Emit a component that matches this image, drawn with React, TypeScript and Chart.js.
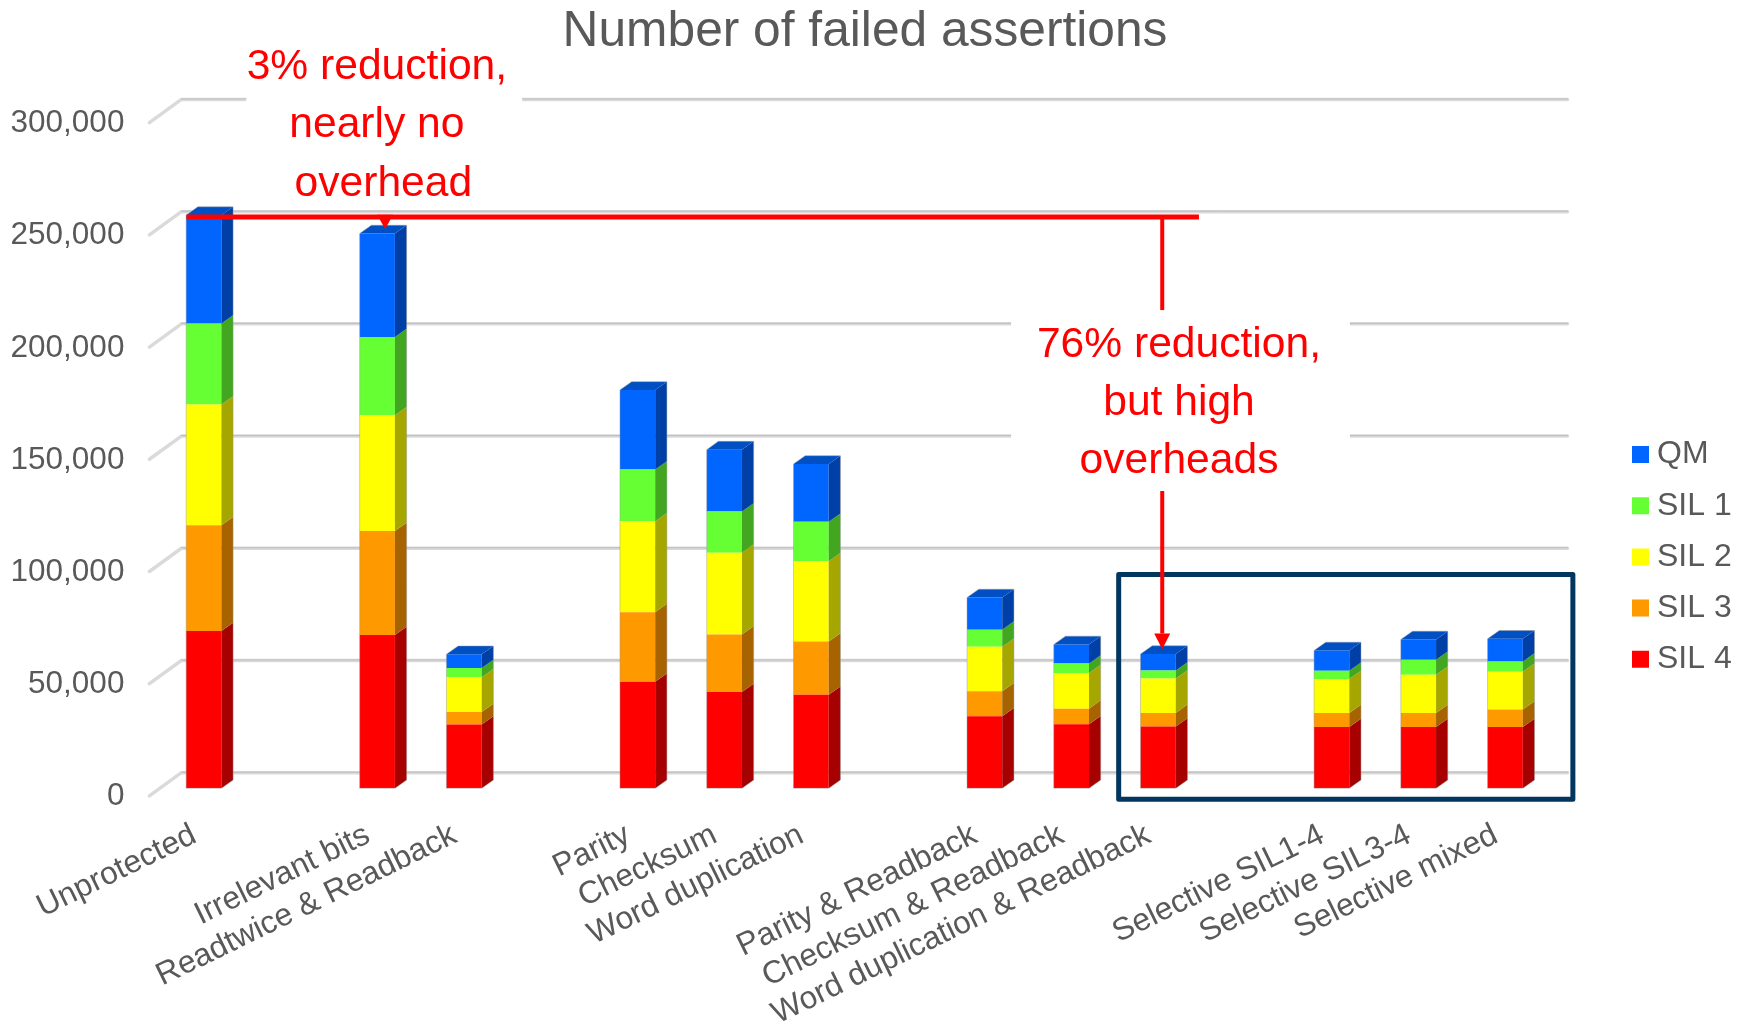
import React, { useEffect, useRef } from "react";
import { Chart, registerables } from "chart.js";

Chart.register(...registerables);

// Blank entries separate the groups of protection techniques on the axis.
const categories = [
  "Unprotected", "",
  "Irrelevant bits", "Readtwice & Readback", "",
  "Parity", "Checksum", "Word duplication", "",
  "Parity & Readback", "Checksum & Readback", "Word duplication & Readback", "",
  "Selective SIL1-4", "Selective SIL3-4", "Selective mixed",
];

const sil4 = [70100, null, 68300, 28400, null, 47500, 42900, 41700, null, 32100, 28500, 27500, null, 27300, 27300, 27300];
const sil3 = [47100, null, 46300, 5600, null, 31000, 25600, 23700, null, 11100, 7000, 6100, null, 6200, 6200, 7800];
const sil2 = [53800, null, 51600, 15500, null, 40500, 36500, 35800, null, 19900, 15900, 15300, null, 15200, 17100, 16800];
const sil1 = [36100, null, 34900, 4100, null, 23000, 18300, 17600, null, 7600, 4200, 3600, null, 3700, 6700, 4600];
const qm = [48300, null, 46100, 6100, null, 35500, 27600, 25700, null, 14300, 8500, 7300, null, 9000, 9000, 10100];

const seriesNames = ["SIL 4", "SIL 3", "SIL 2", "SIL 1", "QM"];
const seriesValues = [sil4, sil3, sil2, sil1, qm];
const frontColors = ["#ff0000", "#ff9900", "#ffff00", "#66ff33", "#0066ff"];
const sideColors = ["#a60000", "#a66300", "#a6a600", "#42a620", "#0040a6"];
const capColor = "#0050c4";

const titleText = "Number of failed assertions";
const leftNote = ["3% reduction,", "nearly no", "overhead"];
const rightNote = ["76% reduction,", "but high", "overheads"];

const TEXT_GREY = "#595959";
const RED = "#ff0000";
const NAVY = "#01375f";
const FONT = '"Liberation Sans", Arial, sans-serif';

// Oblique offset of the extruded bars and of the floor/back wall.
const DEPTH_X = 11.7;
const DEPTH_Y = 8.3;
const WALL_BACK_X = 21;
const WALL_BACK_Y = 15.6;
const WALL_FRONT_X = -11;
const WALL_FRONT_Y = 7.6;

const wallPlugin = {
  id: "wall",
  beforeDatasetsDraw(chart: any) {
    const { ctx, scales, chartArea } = chart;
    const y = scales.y;
    const x = scales.x;
    const wallRight = chartArea.right + WALL_BACK_X - 2;
    ctx.save();
    for (const tick of y.ticks) {
      const py = y.getPixelForValue(tick.value);
      ctx.lineCap = "round";
      ctx.lineJoin = "round";
      ctx.strokeStyle = "#dadada";
      ctx.lineWidth = 3.5;
      ctx.beginPath();
      ctx.moveTo(chartArea.left + WALL_FRONT_X, py + WALL_FRONT_Y);
      ctx.lineTo(chartArea.left + WALL_BACK_X, py - WALL_BACK_Y);
      ctx.lineTo(wallRight, py - WALL_BACK_Y);
      ctx.stroke();
      ctx.strokeStyle = "#bdbdbd";
      ctx.lineWidth = 1;
      ctx.beginPath();
      ctx.moveTo(chartArea.left + WALL_BACK_X, py - WALL_BACK_Y - 0.5);
      ctx.lineTo(wallRight, py - WALL_BACK_Y - 0.5);
      ctx.stroke();
    }
    // The two callouts sit on white panels that interrupt the wall lines.
    ctx.fillStyle = "#ffffff";
    const panels = [
      [0.49, 3.67, 322500, 285000],
      [9.305, 13.21, 213100, 141800],
    ];
    for (const [i0, i1, v0, v1] of panels) {
      const px = x.getPixelForValue(i0);
      const py = y.getPixelForValue(v0);
      ctx.fillRect(px, py, x.getPixelForValue(i1) - px, y.getPixelForValue(v1) - py);
    }
    ctx.restore();
  },
};

const extrusionPlugin = {
  id: "extrusion",
  afterDatasetsDraw(chart: any) {
    const { ctx } = chart;
    ctx.save();
    const metas = seriesValues.map((_, d) => chart.getDatasetMeta(d));
    metas.forEach((meta: any, d: number) => {
      meta.data.forEach((bar: any, i: number) => {
        if (seriesValues[d][i] == null) return;
        const right = bar.x + bar.width / 2;
        ctx.fillStyle = sideColors[d];
        ctx.beginPath();
        ctx.moveTo(right, bar.y);
        ctx.lineTo(right + DEPTH_X, bar.y - DEPTH_Y);
        ctx.lineTo(right + DEPTH_X, bar.base - DEPTH_Y);
        ctx.lineTo(right, bar.base);
        ctx.closePath();
        ctx.fill();
      });
    });
    categories.forEach((_, i) => {
      if (sil4[i] == null) return;
      const low = metas[0].data[i];
      const top = metas[metas.length - 1].data[i];
      const left = top.x - top.width / 2;
      const right = top.x + top.width / 2;
      ctx.fillStyle = capColor;
      ctx.beginPath();
      ctx.moveTo(left, top.y);
      ctx.lineTo(left + DEPTH_X, top.y - DEPTH_Y);
      ctx.lineTo(right + DEPTH_X, top.y - DEPTH_Y);
      ctx.lineTo(right, top.y);
      ctx.closePath();
      ctx.fill();
      ctx.strokeStyle = "rgba(150,150,150,0.45)";
      ctx.lineWidth = 1;
      ctx.beginPath();
      ctx.moveTo(left, low.base);
      ctx.lineTo(right, low.base);
      ctx.lineTo(right + DEPTH_X, low.base - DEPTH_Y);
      ctx.lineTo(right + DEPTH_X, top.y - DEPTH_Y);
      ctx.lineTo(left + DEPTH_X, top.y - DEPTH_Y);
      ctx.lineTo(left, top.y);
      ctx.closePath();
      ctx.stroke();
    });
    ctx.restore();
  },
};

const calloutPlugin = {
  id: "callouts",
  afterDatasetsDraw(chart: any) {
    const { ctx, scales } = chart;
    const px = (i: number) => scales.x.getPixelForValue(i);
    const py = (v: number) => scales.y.getPixelForValue(v);
    const head = (i: number, from: number, tipValue: number, half: number) => {
      ctx.beginPath();
      ctx.moveTo(px(i) - half, py(from));
      ctx.lineTo(px(i) + half, py(from));
      ctx.lineTo(px(i), py(tipValue));
      ctx.closePath();
      ctx.fill();
    };
    const segment = (x0: number, y0: number, x1: number, y1: number, w: number) => {
      ctx.lineWidth = w;
      ctx.beginPath();
      ctx.moveTo(x0, y0);
      ctx.lineTo(x1, y1);
      ctx.stroke();
    };
    ctx.save();

    // Outline around the group of bars the right-hand note talks about.
    ctx.strokeStyle = NAVY;
    ctx.lineWidth = 5;
    ctx.lineJoin = "round";
    ctx.strokeRect(px(10.545), py(95300), px(15.78) - px(10.545), py(-4900) - py(95300));

    const refValue = 254600;
    ctx.strokeStyle = RED;
    ctx.fillStyle = RED;
    segment(px(-0.2), py(refValue), px(11.47), py(refValue), 5);
    head(2.09, refValue + 1000, 249200, 8);
    segment(px(11.047), py(refValue), px(11.047), py(213100), 4);
    segment(px(11.047), py(132500), px(11.047), py(69000), 4);
    head(11.047, 69000, 62000, 8);

    ctx.textAlign = "center";
    ctx.textBaseline = "middle";
    ctx.font = `42.6px ${FONT}`;
    const drawNote = (lines: string[], indices: number[], values: number[]) =>
      lines.forEach((line, k) => ctx.fillText(line, px(indices[k]), py(values[k])));
    drawNote(leftNote, [1.995, 1.995, 2.07], [321200, 295400, 269100]);
    drawNote(rightNote, [11.24, 11.24, 11.24], [197600, 171700, 145900]);
    ctx.restore();
  },
};

// Moves the legend block clear of the plot, next to the right edge of the canvas,
// and lets the value labels use the full width left of the axis.
const axisAndLegendPlacement = {
  id: "axisAndLegendPlacement",
  afterLayout(chart: any) {
    const legend = chart.legend;
    const w = legend.width;
    legend.left = 1620.8;
    legend.right = 1620.8 + w;
    legend.top = 419.3;
    legend.bottom = 1024;
    chart.scales.y.left = 0;
  },
};

export default function App() {
  const canvasRef = useRef<HTMLCanvasElement | null>(null);

  useEffect(() => {
    const chart = new Chart(canvasRef.current as HTMLCanvasElement, {
      type: "bar",
      data: {
        labels: categories,
        datasets: seriesNames.map((name, d) => ({
          label: name,
          data: seriesValues[d],
          backgroundColor: frontColors[d],
          borderWidth: 0,
          barPercentage: 0.406,
          categoryPercentage: 1,
        })),
      },
      options: {
        animation: false,
        responsive: false,
        devicePixelRatio: 1,
        layout: { padding: { left: 60.5, right: 76.5, top: 0, bottom: 0 } },
        plugins: {
          title: {
            display: true,
            text: titleText,
            color: TEXT_GREY,
            font: { family: FONT, size: 49.7, weight: "normal", lineHeight: 1.2 },
            padding: { top: 2, bottom: 53.4 },
          },
          legend: {
            position: "right",
            align: "start",
            reverse: true,
            labels: {
              color: TEXT_GREY,
              font: { family: FONT, size: 32, lineHeight: 1 },
              padding: 19.2,
              boxWidth: 1,
              boxHeight: 1,
              // A wide stroke on a tiny box keeps the swatch close to its text.
              generateLabels(c: any) {
                const items = Chart.defaults.plugins.legend.labels.generateLabels(c);
                return items.map((item: any) => ({
                  ...item,
                  strokeStyle: item.fillStyle,
                  lineWidth: 16,
                }));
              },
            },
          },
          tooltip: { enabled: false },
        },
        scales: {
          x: {
            stacked: true,
            grid: { display: false, drawTicks: false },
            border: { display: false },
            afterFit(scale: any) {
              scale.height = 235.7;
            },
            ticks: {
              color: TEXT_GREY,
              font: { family: FONT, size: 31.7 },
              autoSkip: false,
              minRotation: 26,
              maxRotation: 26,
              padding: 28,
              labelOffset: -9.5,
            },
          },
          y: {
            stacked: true,
            min: 0,
            max: 300000,
            grid: { display: false, drawTicks: false },
            border: { display: false },
            afterFit(scale: any) {
              scale.width = 99.9;
            },
            ticks: {
              stepSize: 50000,
              color: TEXT_GREY,
              font: { family: FONT, size: 31.5 },
              padding: 36,
              labelOffset: 8.5,
              callback: (v: any) => Number(v).toLocaleString("en-US"),
            },
          },
        },
      },
      plugins: [wallPlugin, extrusionPlugin, calloutPlugin, axisAndLegendPlacement],
    } as any);
    return () => chart.destroy();
  }, []);

  return (
    <div style={{ position: "absolute", left: 0, top: 0, width: 1746, height: 1024, background: "#ffffff" }}>
      <canvas ref={canvasRef} width={1746} height={1024} style={{ display: "block" }} />
    </div>
  );
}
